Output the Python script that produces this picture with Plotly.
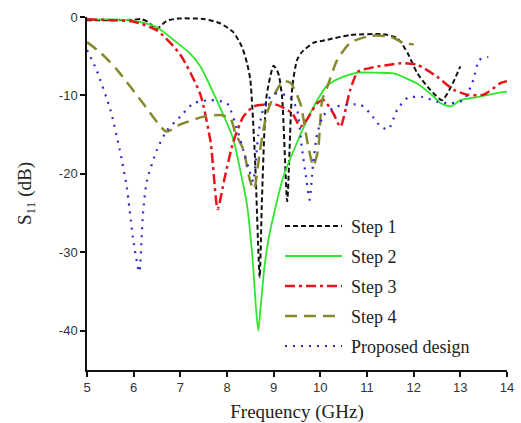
import plotly.graph_objects as go

# ---------------- data ----------------
f1 = [5.0, 5.5, 6.0, 6.15, 6.3, 6.5, 6.7, 6.95, 7.5, 7.85, 8.13, 8.32, 8.43, 8.5, 8.6, 8.7,
      8.75, 8.85, 9.0, 9.1, 9.18, 9.29, 9.4, 9.5, 9.6, 9.85, 10.15, 10.64, 11.35, 11.65, 11.87,
      12.08, 12.36, 12.61, 12.8, 13.0]
s1 = [-0.4, -0.4, -0.35, -0.25, -0.6, -1.5, -0.5, -0.2, -0.25, -0.8, -1.9, -3.8, -5.9, -8.0,
      -18.0, -33.2, -23.0, -10.0, -6.2, -7.2, -10.2, -23.5, -8.9, -5.5, -4.5, -3.3, -2.9, -2.3,
      -2.2, -2.7, -4.6, -7.2, -9.3, -10.6, -8.9, -6.3]

f2 = [5.0, 5.5, 6.0, 6.5, 6.85, 7.2, 7.43, 7.78, 8.13, 8.3, 8.43, 8.55, 8.62, 8.67, 8.72, 8.8,
      8.9, 9.03, 9.2, 9.5, 9.78, 10.15, 10.5, 10.8, 11.2, 11.57, 12.08, 12.4, 12.58, 12.8, 13.0,
      13.37, 13.87, 14.0]
s2 = [-0.3, -0.3, -0.45, -1.3, -2.9, -4.6, -6.3, -10.6, -15.5, -20.0, -24.0, -31.0, -37.0,
      -40.0, -37.0, -32.0, -28.0, -24.5, -20.5, -16.0, -12.3, -8.7, -7.6, -7.1, -7.1, -7.2,
      -8.5, -10.0, -11.0, -11.4, -10.6, -10.2, -9.6, -9.5]

f3 = [5.0, 5.5, 6.0, 6.5, 7.0, 7.43, 7.65, 7.8, 7.95, 8.13, 8.35, 8.57, 8.78, 9.07, 9.4, 9.57,
      9.72, 9.93, 10.07, 10.28, 10.43, 10.64, 10.8, 11.07, 11.72, 12.08, 12.5, 12.86, 13.15,
      13.5, 13.87, 14.0]
s3 = [-0.3, -0.4, -0.6, -1.7, -4.8, -9.9, -16.0, -24.5, -20.5, -16.0, -12.7, -11.4, -11.2,
      -11.2, -12.3, -14.0, -13.0, -11.0, -10.6, -12.3, -14.0, -9.3, -7.0, -6.5, -5.9, -6.1,
      -7.6, -9.3, -9.9, -9.9, -8.4, -8.2]

f4 = [5.0, 5.3, 5.64, 6.2, 6.7, 7.0, 7.5, 7.85, 8.07, 8.18, 8.35, 8.5, 8.58, 8.7, 8.78, 8.86,
      9.03, 9.2, 9.36, 9.57, 9.74, 9.85, 9.95, 10.04, 10.15, 10.36, 10.64, 11.07, 11.5, 11.78,
      12.0]
s4 = [-3.2, -4.6, -6.7, -11.0, -14.6, -13.7, -12.7, -12.5, -12.9, -14.8, -16.9, -21.0, -22.0,
      -17.3, -14.4, -12.2, -9.7, -8.2, -8.4, -11.0, -16.5, -19.0, -17.0, -10.6, -8.9, -5.5,
      -3.3, -2.4, -2.5, -3.3, -3.5]

f5 = [5.0, 5.2, 5.5, 5.7, 5.85, 6.0, 6.12, 6.2, 6.28, 6.5, 6.72, 7.0, 7.28, 7.64, 8.0, 8.22,
      8.35, 8.5, 8.56, 8.67, 8.75, 8.86, 9.07, 9.36, 9.5, 9.6, 9.7, 9.77, 9.84, 9.93, 10.07,
      10.36, 10.86, 11.07, 11.3, 11.46, 11.65, 11.87, 12.2, 12.5, 12.8, 13.07, 13.28, 13.4, 13.6]
s5 = [-4.2, -6.7, -11.8, -16.9, -21.6, -28.8, -32.5, -25.0, -21.0, -16.9, -14.4, -12.7, -11.0,
      -10.6, -11.0, -14.4, -17.0, -20.0, -21.0, -15.0, -12.3, -10.6, -9.7, -10.3, -11.8, -16.5,
      -20.7, -23.3, -19.0, -15.0, -12.5, -11.4, -11.2, -12.3, -14.0, -14.3, -11.8, -10.3, -10.2,
      -10.8, -11.0, -10.6, -8.0, -5.5, -5.1]

names = ["Step 1", "Step 2", "Step 3", "Step 4", "Proposed design"]
xs = [f1, f2, f3, f4, f5]
ys = [s1, s2, s3, s4, s5]

x_ticks = [5, 6, 7, 8, 9, 10, 11, 12, 13, 14]
y_ticks = [0, -10, -20, -30, -40]

# ---------------- styles ----------------
colors = ["#111111", "#2ee62e", "#e8141c", "#878a2c", "#2a2ad0"]
dashes = ["5px,3px", "solid", "10px,4px,3px,4px", "12px,7px", "2px,6px"]
widths = [2.0, 1.8, 2.5, 2.5, 2.2]

fig = go.Figure()
for x, y, n, c, d, w in zip(xs, ys, names, colors, dashes, widths):
    fig.add_trace(go.Scatter(x=x, y=y, name=n, mode="lines",
                             line=dict(color=c, dash=d, width=w, shape="spline", smoothing=0.6),
                             showlegend=False))

# ---------------- manual legend (long line samples like the original) ----------------
L, T, W, H = 87, 17, 420, 353
def px(xp):
    return (xp - L) / W
def py(yp):
    return (T + H - yp) / H

for i, (n, c, d, w) in enumerate(zip(names, colors, dashes, widths)):
    yrow = 226 + 30 * i
    fig.add_shape(type="line", xref="paper", yref="paper",
                  x0=px(285), x1=px(342), y0=py(yrow), y1=py(yrow),
                  line=dict(color=c, dash=d, width=w))
    fig.add_annotation(x=px(349), y=py(yrow + 1), xref="paper", yref="paper",
                       text=n, showarrow=False, xanchor="left", yanchor="middle",
                       font=dict(family="Liberation Serif", size=18, color="#222222"))

axis_common = dict(showline=True, linecolor="#111111", linewidth=1.5, ticks="outside",
                   ticklen=5, tickwidth=1.5, tickcolor="#111111", showgrid=False,
                   zeroline=False, mirror=False, automargin=False,
                   tickfont=dict(family="Liberation Sans", size=13, color="#333333"))

fig.update_layout(
    width=521, height=423,
    margin=dict(l=L, r=521 - L - W, t=T, b=423 - T - H),
    paper_bgcolor="white", plot_bgcolor="white",
    xaxis=dict(range=[5, 14], tickvals=x_ticks, ticktext=[str(v) for v in x_ticks],
               title=dict(text="Frequency (GHz)", standoff=14,
                          font=dict(family="Liberation Serif", size=19, color="#222222")),
               **axis_common),
    yaxis=dict(range=[-45, 0], tickvals=y_ticks, ticktext=[str(v) for v in y_ticks],
               title=dict(text="S<sub>11</sub> (dB)", standoff=22,
                          font=dict(family="Liberation Serif", size=19, color="#222222")),
               **axis_common),
)

fig.write_html("out.html")
